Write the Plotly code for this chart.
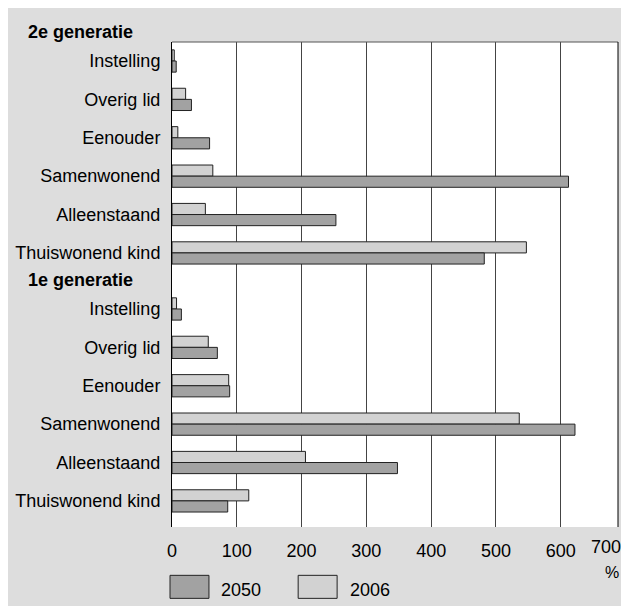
import plotly.graph_objects as go

# ---------------- data ----------------
categories = ["Instelling", "Overig lid", "Eenouder", "Samenwonend", "Alleenstaand", "Thuiswonend kind"]
groups = ["2e generatie", "1e generatie"]

gen2_2006 = [3.5, 21, 9, 63, 51.5, 547]
gen2_2050 = [6.5, 30, 58, 612, 253, 482]
gen1_2006 = [7, 56, 87.5, 536, 206, 118.5]
gen1_2050 = [14.5, 70, 89, 622, 348, 86]

x_ticks = [0, 100, 200, 300, 400, 500, 600]
x_last_tick = "700"
series_names = ["2050", "2006"]

# ---------------- layout helpers ----------------
OFF_X, OFF_Y = 8, 8                  # page offset of the figure (body margin)
FIG_W = 629 - 2 * OFF_X              # visible width
FIG_H = 606 - OFF_Y
PL, PR, PT, PB = 172, 618.5, 42, 526.7   # plot area in page pixels
PX_PER_UNIT = 0.6486                 # horizontal scale of the reference
GAP = 0.46                           # extra space between the two groups (in slots)
X_MAX = (PR - PL) / PX_PER_UNIT

FONT = "Liberation Sans, Arial, Helvetica, sans-serif"
DARK = "#a2a2a2"
LIGHT = "#d2d2d2"
BG = "#dddddd"
EDGE = "#222222"


def px(x):
    return (x - PL) / (PR - PL)


def py(y):
    return (PB - y) / (PB - PT)


n = len(categories)
starts = [0, n + GAP]
ypos, ylabels, v2006, v2050 = [], [], [], []
for g, (a, b) in enumerate([(gen2_2006, gen2_2050), (gen1_2006, gen1_2050)]):
    for i, c in enumerate(categories):
        ypos.append(starts[g] + i)
        ylabels.append(c)
    v2006 += a
    v2050 += b

fig = go.Figure()
fig.add_trace(go.Bar(y=ypos, x=v2006, orientation="h", name=series_names[1],
                     marker=dict(color=LIGHT, line=dict(color=EDGE, width=1))))
fig.add_trace(go.Bar(y=ypos, x=v2050, orientation="h", name=series_names[0],
                     marker=dict(color=DARK, line=dict(color=EDGE, width=1))))

y_top = -0.495
y_bot = ypos[-1] + 0.68


def ydata_to_paper(v):
    return (y_bot - v) / (y_bot - y_top)


annotations = []
for g, name in enumerate(groups):
    annotations.append(dict(text="<b>" + name + "</b>", xref="paper", yref="paper",
                            x=px(26), y=ydata_to_paper(starts[g] - 0.75),
                            xanchor="left", yanchor="middle",
                            showarrow=False, font=dict(size=18, color="#000")))
annotations.append(dict(text=x_last_tick, xref="paper", yref="paper", x=px(606), y=py(547),
                        xanchor="center", yanchor="middle", showarrow=False,
                        font=dict(size=18, color="#000")))
annotations.append(dict(text="%", xref="paper", yref="paper", x=px(612), y=py(572),
                        xanchor="center", yanchor="middle", showarrow=False,
                        font=dict(size=16, color="#000")))
# legend text
annotations.append(dict(text=series_names[0], xref="paper", yref="paper", x=px(219), y=py(590),
                        xanchor="left", yanchor="middle", showarrow=False,
                        font=dict(size=18, color="#000")))
annotations.append(dict(text=series_names[1], xref="paper", yref="paper", x=px(347.7), y=py(590),
                        xanchor="left", yanchor="middle", showarrow=False,
                        font=dict(size=18, color="#000")))

shapes = [
    # legend boxes
    dict(type="rect", xref="paper", yref="paper", x0=px(170), x1=px(209), y0=py(575), y1=py(598),
         fillcolor=DARK, line=dict(color=EDGE, width=1)),
    dict(type="rect", xref="paper", yref="paper", x0=px(298.3), x1=px(337.3), y0=py(575), y1=py(598),
         fillcolor=LIGHT, line=dict(color=EDGE, width=1)),
    # top and right border of plot area
    dict(type="line", xref="paper", yref="paper", x0=0, x1=1, y0=1, y1=1,
         line=dict(color="#555555", width=1)),
    dict(type="line", xref="paper", yref="paper", x0=1, x1=1, y0=0, y1=1,
         line=dict(color="#000000", width=1)),
]

fig.update_layout(
    width=FIG_W, height=FIG_H,
    margin=dict(l=PL - OFF_X, r=OFF_X + FIG_W - PR, t=PT - OFF_Y, b=OFF_Y + FIG_H - PB, pad=0),
    paper_bgcolor=BG, plot_bgcolor="white",
    barmode="group", bargap=0.42, bargroupgap=0,
    showlegend=False,
    font=dict(family=FONT, size=18, color="#000"),
    annotations=annotations, shapes=shapes,
    xaxis=dict(range=[0, X_MAX], tickvals=x_ticks, ticktext=[str(v) for v in x_ticks],
               showgrid=True, gridcolor="#444444", gridwidth=1.3, zeroline=False,
               showline=False, ticks="", ticklabelstandoff=11,
               tickfont=dict(size=18)),
    yaxis=dict(range=[y_bot, y_top], tickvals=ypos, ticktext=ylabels,
               showgrid=False, zeroline=False, showline=True, linecolor="#000", linewidth=1,
               ticks="", ticklabelstandoff=7, tickfont=dict(size=18)),
)

fig.write_html("out.html")
